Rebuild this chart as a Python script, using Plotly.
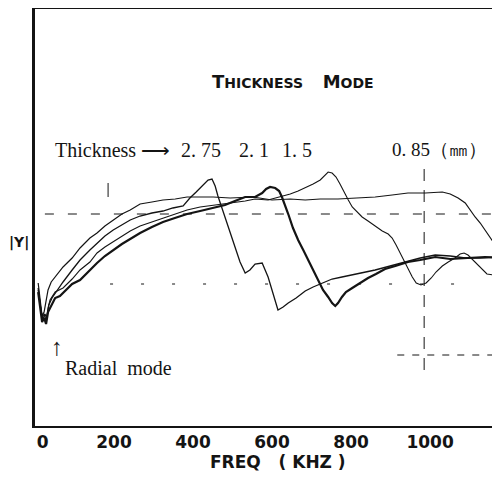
import plotly.graph_objects as go

# Admittance |Y| vs frequency for four disc thicknesses.
# Frequency in kHz, |Y| in arbitrary units (0 = bottom of the frame).
FREQ_085 = [8, 13, 18, 23, 28, 33, 41, 53, 71, 94, 114, 139, 157, 177, 198, 220, 241, 266, 296, 324,
            355, 385, 418, 451, 494, 552, 600, 646, 684, 722, 767, 810, 861, 904, 944, 988, 1031, 1051,
            1071, 1089, 1101, 1114, 1127, 1139, 1152, 1160, 1170, 1177]
Y_085 = [143, 126, 110, 114, 126, 136, 144, 150, 159, 168, 178, 188, 193, 200, 206, 212, 216, 222, 224, 226,
         227, 229, 229, 229, 228, 229, 226, 227, 226, 227, 227, 228, 229, 231, 233, 233, 234, 232,
         228, 223, 216, 209, 203, 196, 188, 183, 178, 175]

FREQ_275 = [8, 13, 20, 25, 30, 35, 43, 56, 71, 94, 114, 139, 157, 177, 198, 220, 241, 266, 296, 324,
            349, 375, 392, 408, 418, 430, 438, 448, 456, 463, 473, 484, 494, 506, 519, 532, 544, 557, 575, 590,
            603, 615, 628, 641, 661, 684, 704, 727, 752, 777, 803, 828, 861, 899, 944, 975, 1013, 1051, 1089, 1127,
            1177]
Y_275 = [138, 121, 106, 112, 108, 121, 128, 136, 144, 156, 166, 176, 183, 190, 196, 201, 206, 210, 213, 215,
         218, 220, 228, 234, 238, 243, 246, 247, 240, 230, 218, 206, 194, 178, 164, 153, 156, 162, 163, 149,
         132, 116, 119, 123, 128, 135, 139, 143, 147, 149, 151, 153, 156, 160, 165, 168, 171, 170, 168, 168,
         169]

FREQ_21 = [8, 13, 18, 23, 28, 33, 41, 51, 63, 78, 94, 114, 139, 157, 177, 198, 220, 241, 266, 296,
           324, 354, 385, 418, 451, 481, 506, 532, 557, 575, 585, 595, 608, 618, 625, 633, 641, 653, 666, 679,
           691, 704, 717, 729, 742, 752, 760, 767, 777, 787, 803, 823, 843, 863, 886, 912, 944, 975, 1013, 1051,
           1101, 1139, 1177]
Y_21 = [134, 116, 104, 108, 102, 114, 121, 128, 130, 136, 142, 146, 156, 163, 170, 176, 182, 187, 193, 199,
        204, 208, 212, 215, 218, 221, 225, 229, 229, 233, 237, 239, 238, 235, 229, 221, 212, 198, 186, 176,
        166, 156, 146, 136, 129, 123, 120, 123, 129, 134, 138, 143, 148, 152, 157, 160, 164, 166, 169, 167,
        168, 169, 168]

FREQ_15 = [8, 13, 18, 23, 28, 33, 38, 51, 71, 94, 114, 139, 157, 177, 198, 220, 241, 266, 296, 324,
           354, 385, 418, 451, 494, 532, 557, 590, 620, 646, 666, 684, 704, 722, 734, 742, 752, 762, 772, 782,
           793, 803, 813, 828, 843, 861, 879, 894, 904, 914, 922, 932, 944, 955, 965, 977, 990, 1003, 1015, 1031,
           1046, 1063, 1076, 1086, 1096, 1106, 1119, 1132, 1144, 1160, 1177]
Y_15 = [136, 120, 108, 112, 106, 118, 126, 134, 138, 147, 156, 164, 173, 179, 184, 190, 195, 200, 204, 208,
        212, 216, 219, 221, 223, 225, 227, 226, 229, 232, 235, 238, 242, 246, 251, 254, 253, 249, 242, 234,
        226, 219, 215, 209, 205, 200, 195, 192, 188, 181, 175, 166, 158, 149, 143, 141, 143, 148, 154, 160,
        164, 168, 172, 173, 171, 167, 161, 156, 152, 151, 151]

TICK_VALS = [0, 200, 400, 600, 800, 1000]
TICK_TEXT = ["\u00a0\u00a0\u20090", "200", "400", "600", "800", "1000"]

INK = "#141414"
SERIF = "Liberation Serif"
SANS = "DejaVu Sans"

fig = go.Figure()
for fx, fy, w in [(FREQ_085, Y_085, 1.2), (FREQ_275, Y_275, 1.3), (FREQ_15, Y_15, 1.1), (FREQ_21, Y_21, 2.2)]:
    fig.add_trace(go.Scatter(x=fx, y=fy, mode="lines", line=dict(color=INK, width=w), hoverinfo="skip"))

# broken reference lines drawn on the recorder paper
ref = dict(color=INK, width=1)
fig.add_shape(type="line", x0=25, x1=1177, y0=212, y1=212, line=dict(ref, dash="9px,14px"))
fig.add_shape(type="line", x0=190, x1=1101, y0=142, y1=142, line=dict(ref, dash="3px,28px"))
fig.add_shape(type="line", x0=985, x1=985, y0=56, y1=266, line=dict(ref, dash="12px,9px"))
fig.add_shape(type="line", x0=917, x1=1157, y0=71, y1=71, line=dict(ref, dash="7px,8px"))
fig.add_shape(type="line", x0=185, x1=185, y0=229, y1=243, line=ref)


def note(text, x, y, size, family, xanchor="center", bold=False):
    fig.add_annotation(text=f"<b>{text}</b>" if bold else text, x=x, y=y, xref="paper", yref="paper",
                       xanchor=xanchor, yanchor="middle", showarrow=False,
                       font=dict(family=family, size=size, color=INK))


big = "<span style='font-size:18px'>{}</span>"
note(big.format("T") + "HICKNESS\u00a0\u00a0\u00a0\u00a0" + big.format("M") + "ODE", 0.555, 0.825, 14, SANS, bold=True)
note("Thickness \u27f6", 0.039, 0.662, 20, SERIF, xanchor="left")
note("2. 75", 0.357, 0.662, 20, SERIF)
note("2. 1", 0.471, 0.662, 20, SERIF)
note("1. 5", 0.563, 0.662, 20, SERIF)
note("0. 85\uff08\u339c\uff09", 0.763, 0.662, 19, SERIF, xanchor="left")
note("\u2191", 0.047, 0.189, 24, SERIF)
note("Radial\u00a0\u00a0mode", 0.060, 0.139, 20, SERIF, xanchor="left")
note("|Y|", -0.0344, 0.439, 14, SANS, bold=True)
note("FREQ\u00a0\u00a0\u00a0( KHZ )", 0.523, -0.0863, 17, SANS, bold=True)

fig.update_xaxes(range=[0, 1177], tickvals=TICK_VALS, ticktext=TICK_TEXT, ticks="", showgrid=False,
                 zeroline=False, showline=True, linewidth=1.6, linecolor=INK, mirror=True,
                 tickfont=dict(family=SANS, size=17, color=INK, weight="bold"))
fig.update_yaxes(range=[0, 417], showticklabels=False, ticks="", showgrid=False, zeroline=False,
                 showline=True, linewidth=3, linecolor=INK)
# the page body keeps its default 8px margin, so the figure is sized to the visible area
fig.update_layout(width=492, height=473, margin=dict(l=27, r=0, t=1, b=55), showlegend=False,
                  plot_bgcolor="white", paper_bgcolor="white", font=dict(family=SANS, color=INK))

fig.write_html("out.html")
